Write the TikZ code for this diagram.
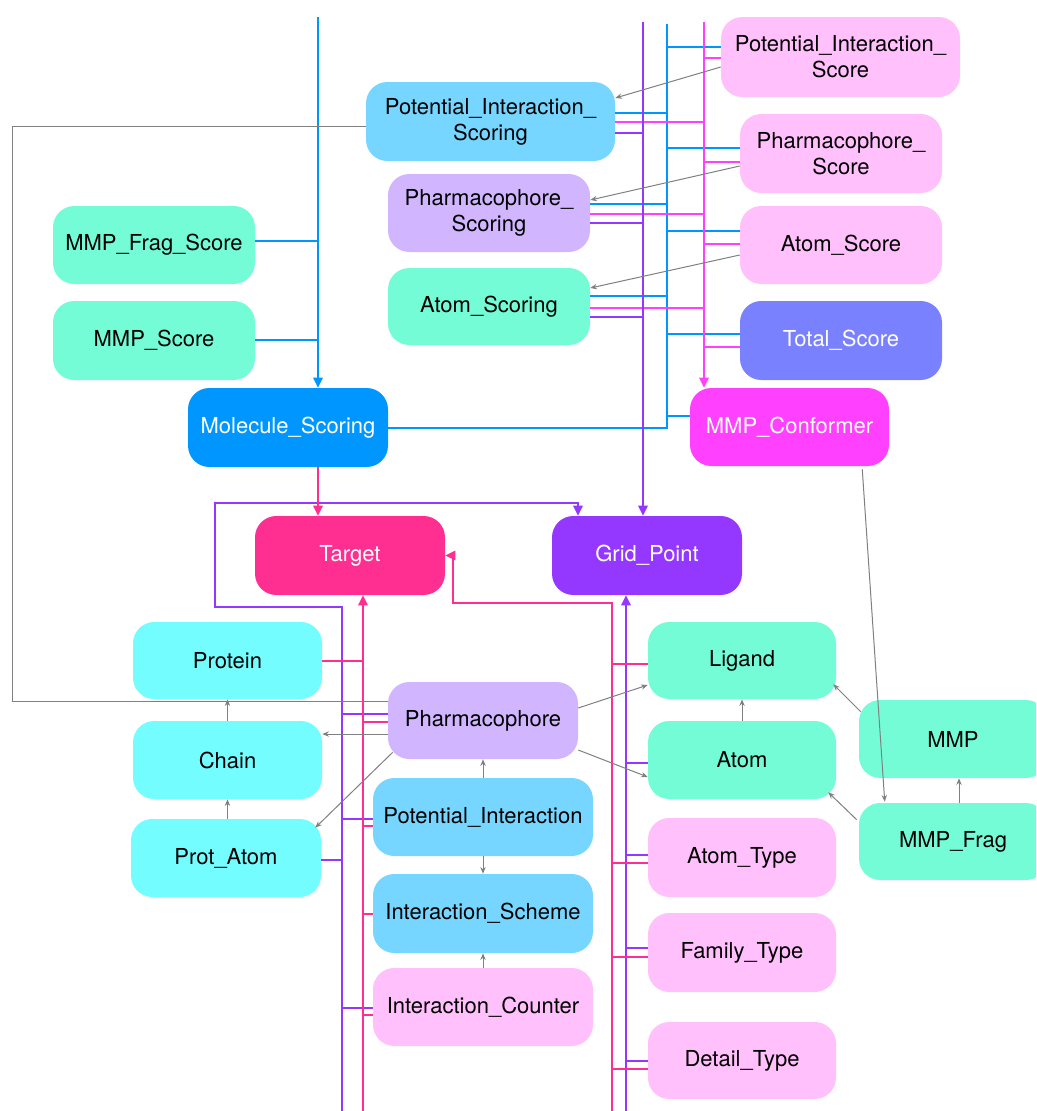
\documentclass[tikz,border=0pt]{standalone}
\usepackage{fontspec}
\setmainfont{TeX Gyre Heros}
\usetikzlibrary{arrows.meta,calc}

% line colours
\definecolor{cBlue}{HTML}{0096FF}
\definecolor{cMag}{HTML}{FF40FF}
\definecolor{cPur}{HTML}{9437FF}
\definecolor{cHot}{HTML}{FF2F92}
\definecolor{cGray}{HTML}{808080}
% box fills
\definecolor{fPink}{HTML}{FFC0FB}
\definecolor{fLBlue}{HTML}{76D6FF}
\definecolor{fLav}{HTML}{D1B6FF}
\definecolor{fMint}{HTML}{73FCD6}
\definecolor{fCyan}{HTML}{73FDFF}
\definecolor{fPeri}{HTML}{7A81FF}
\definecolor{fBlue}{HTML}{0096FF}
\definecolor{fMag}{HTML}{FF40FF}
\definecolor{fHot}{HTML}{FF2F92}
\definecolor{fPur}{HTML}{9437FF}

% \bx{name}{x1}{y1}{x2}{y2}{fill}{text colour}{label}
\newcommand\bx[8]{%
  \node[box,fill=#6,text=#7,
        minimum width={(#4-#2)*0.75pt},minimum height={(#5-#3)*0.75pt}]
        (#1) at ({(#2+#4)/2},{(#3+#5)/2}) {#8};}

\begin{document}
\begin{tikzpicture}[x=0.75pt,y=-0.75pt,
  box/.style={rounded corners=16pt,inner sep=0pt,align=center,
              font=\fontsize{16.5}{19.5}\selectfont},
  lnB/.style={draw=cBlue,line width=1.5pt},
  lnM/.style={draw=cMag,line width=1.5pt},
  lnP/.style={draw=cPur,line width=1.5pt},
  lnH/.style={draw=cHot,line width=1.5pt},
  lnG/.style={draw=cGray,line width=0.75pt},
  tip/.style={-{Triangle[length=7.5pt,width=7pt]}},
  gtip/.style={-{Stealth[length=5pt,width=4pt]}},
]
\clip (0,0) rectangle (1036,1111);
\fill[white] (0,0) rectangle (1036,1111);

% ---------- boxes ----------
\bx{PIScore}{721}{17}{960}{97}{fPink}{black}{Potential\_Interaction\_\\Score}
\bx{PIScoring}{366}{82}{615}{161}{fLBlue}{black}{Potential\_Interaction\_\\Scoring}
\bx{PhScore}{740}{114}{942}{193}{fPink}{black}{Pharmacophore\_\\Score}
\bx{PhScoring}{388}{174}{590}{252}{fLav}{black}{Pharmacophore\_\\Scoring}
\bx{AtomScore}{740}{206}{942}{284}{fPink}{black}{Atom\_Score}
\bx{AtomScoring}{388}{268}{590}{345}{fMint}{black}{Atom\_Scoring}
\bx{TotalScore}{740}{301}{942}{380}{fPeri}{white}{Total\_Score}
\bx{MMPFragScore}{53}{206}{255}{284}{fMint}{black}{MMP\_Frag\_Score}
\bx{MMPScore}{53}{301}{255}{380}{fMint}{black}{MMP\_Score}
\bx{MolScoring}{188}{388}{388}{467}{fBlue}{white}{Molecule\_Scoring}
\bx{MMPConf}{690}{388}{889}{466}{fMag}{white}{MMP\_Conformer}
\bx{Target}{255}{516}{445}{595}{fHot}{white}{Target}
\bx{GridPoint}{552}{516}{742}{595}{fPur}{white}{Grid\_Point}
\bx{Protein}{133}{622}{322}{699}{fCyan}{black}{Protein}
\bx{Chain}{133}{721}{322}{799}{fCyan}{black}{Chain}
\bx{ProtAtom}{131}{819}{321}{897}{fCyan}{black}{Prot\_Atom}
\bx{Pharm}{388}{682}{578}{759}{fLav}{black}{Pharmacophore}
\bx{PotInt}{373}{778}{593}{856}{fLBlue}{black}{Potential\_Interaction}
\bx{IntScheme}{373}{874}{593}{953}{fLBlue}{black}{Interaction\_Scheme}
\bx{IntCounter}{373}{968}{593}{1046}{fPink}{black}{Interaction\_Counter}
\bx{Ligand}{648}{622}{836}{699}{fMint}{black}{Ligand}
\bx{Atom}{648}{721}{836}{799}{fMint}{black}{Atom}
\bx{AtomType}{648}{818}{836}{897}{fPink}{black}{Atom\_Type}
\bx{FamilyType}{648}{913}{836}{992}{fPink}{black}{Family\_Type}
\bx{DetailType}{648}{1022}{836}{1099}{fPink}{black}{Detail\_Type}
\bx{MMP}{859}{700}{1047}{778}{fMint}{black}{MMP}
\bx{MMPFrag}{859}{803}{1047}{880}{fMint}{black}{MMP\_Frag}

% ---------- bus end points ----------
\coordinate (bA) at (318,17);
\coordinate (bP) at (643,22);
\coordinate (bB) at (667,24);
\coordinate (bM) at (704,22);
\coordinate (lP) at (342,1111);
\coordinate (lH) at (363,1111);
\coordinate (rH) at (612,1111);
\coordinate (rP) at (626,1111);
\coordinate (loopA) at (215,607);
\coordinate (loopB) at (578,503);
\coordinate (hookT) at (453,603);

% ---------- blue buses ----------
\draw[lnB,tip] (bA) -- (bA |- MolScoring.north);
\draw[lnB] (MMPFragScore.east |- 0,241) -- (bA |- 0,241);
\draw[lnB] (MMPScore.east |- 0,340) -- (bA |- 0,340);
\draw[lnB] (bB) |- (MolScoring.east);
\draw[lnB] (bB |- 0,47) -- (PIScore.west |- 0,47);
\draw[lnB] (PIScoring.east |- 0,113) -- (bB |- 0,113);
\draw[lnB] (bB |- 0,148) -- (PhScore.west |- 0,148);
\draw[lnB] (PhScoring.east |- 0,204) -- (bB |- 0,204);
\draw[lnB] (bB |- 0,231) -- (AtomScore.west |- 0,231);
\draw[lnB] (AtomScoring.east |- 0,296) -- (bB |- 0,296);
\draw[lnB] (bB |- 0,334) -- (TotalScore.west |- 0,334);
\draw[lnB] (bB |- 0,416) -- (MMPConf.west |- 0,416);

% ---------- magenta bus ----------
\draw[lnM,tip] (bM) -- (bM |- MMPConf.north);
\draw[lnM] (bM |- 0,58) -- (PIScore.west |- 0,58);
\draw[lnM] (PIScoring.east |- 0,122) -- (bM |- 0,122);
\draw[lnM] (bM |- 0,162) -- (PhScore.west |- 0,162);
\draw[lnM] (PhScoring.east |- 0,214) -- (bM |- 0,214);
\draw[lnM] (bM |- 0,244) -- (AtomScore.west |- 0,244);
\draw[lnM] (AtomScoring.east |- 0,308) -- (bM |- 0,308);
\draw[lnM] (bM |- 0,347) -- (TotalScore.west |- 0,347);

% ---------- purple buses ----------
\draw[lnP,tip] (bP) -- (bP |- GridPoint.north);
\draw[lnP] (PIScoring.east |- 0,133) -- (bP |- 0,133);
\draw[lnP] (PhScoring.east |- 0,223) -- (bP |- 0,223);
\draw[lnP] (AtomScoring.east |- 0,317) -- (bP |- 0,317);
\draw[lnP,tip] (lP) |- (loopA) |- (loopB) -- (loopB |- GridPoint.north);
\draw[lnP,tip] (rP) -- (rP |- GridPoint.south);
\draw[lnP] (lP |- 0,714) -- (Pharm.west |- 0,714);
\draw[lnP] (lP |- 0,819) -- (PotInt.west |- 0,819);
\draw[lnP] (ProtAtom.east |- 0,860) -- (lP |- 0,860);
\draw[lnP] (lP |- 0,1008) -- (IntCounter.west |- 0,1008);
\draw[lnP] (rP |- 0,763) -- (Atom.west |- 0,763);
\draw[lnP] (rP |- 0,855) -- (AtomType.west |- 0,855);
\draw[lnP] (rP |- 0,948) -- (FamilyType.west |- 0,948);
\draw[lnP] (rP |- 0,1061) -- (DetailType.west |- 0,1061);

% ---------- hot pink buses ----------
\draw[lnH,tip] (MolScoring.south -| bA) -- (Target.north -| bA);
\draw[lnH,tip] (lH) -- (lH |- Target.south);
\draw[lnH,tip] (rH) |- (hookT) |- (Target.east);
\draw[lnH] (Protein.east |- 0,661) -- (lH |- 0,661);
\draw[lnH] (lH |- 0,722) -- (Pharm.west |- 0,722);
\draw[lnH] (lH |- 0,826) -- (PotInt.west |- 0,826);
\draw[lnH] (lH |- 0,914) -- (IntScheme.west |- 0,914);
\draw[lnH] (lH |- 0,1015) -- (IntCounter.west |- 0,1015);
\draw[lnH] (rH |- 0,664) -- (Ligand.west |- 0,664);
\draw[lnH] (rH |- 0,863) -- (AtomType.west |- 0,863);
\draw[lnH] (rH |- 0,957) -- (FamilyType.west |- 0,957);
\draw[lnH] (rH |- 0,1069) -- (DetailType.west |- 0,1069);

% ---------- grey relations ----------
\draw[lnG,gtip] (PIScore.west |- 0,67) -- (PIScoring.east |- 0,98);
\draw[lnG,gtip] (PhScore.west |- 0,166) -- (PhScoring.east |- 0,200);
\draw[lnG,gtip] (AtomScore.west |- 0,255) -- (AtomScoring.east |- 0,288);
\draw[lnG] (PIScoring.west |- 0,126) -| (12,701) -- (Pharm.west |- 0,701);
\draw[lnG,gtip] (Pharm.west |- 0,734) -- (Chain.east |- 0,734);
\draw[lnG,gtip] ($(Pharm.south west)+(5,-7)$) -- ($(ProtAtom.north east)+(-6,9)$);
\draw[lnG,gtip] (Chain.north) -- (Protein.south);
\draw[lnG,gtip] (ProtAtom.north -| Chain.north) -- (Chain.south);
\draw[lnG,gtip] (Pharm.east |- 0,708) -- (Ligand.west |- 0,685);
\draw[lnG,gtip] (Pharm.east |- 0,750) -- (Atom.west |- 0,777);
\draw[lnG,gtip] (Atom.north) -- (Ligand.south);
\draw[lnG,gtip] ($(MMP.north west)+(2,12)$) -- ($(Ligand.south east)+(-3,-15)$);
\draw[lnG,gtip] ($(MMPFrag.north west)+(-2,17)$) -- ($(Atom.south east)+(-8,-7)$);
\draw[lnG,gtip] (959,0 |- MMPFrag.north) -- (959,0 |- MMP.south);
\draw[lnG,gtip] ($(MMPConf.south east)+(-27,3)$) -- ($(MMPFrag.north west)+(26,-1)$);
\draw[lnG,gtip] (PotInt.north) -- (Pharm.south);
\draw[lnG,gtip] (PotInt.south) -- (IntScheme.north);
\draw[lnG,gtip] (IntCounter.north) -- (IntScheme.south);
\end{tikzpicture}
\end{document}
